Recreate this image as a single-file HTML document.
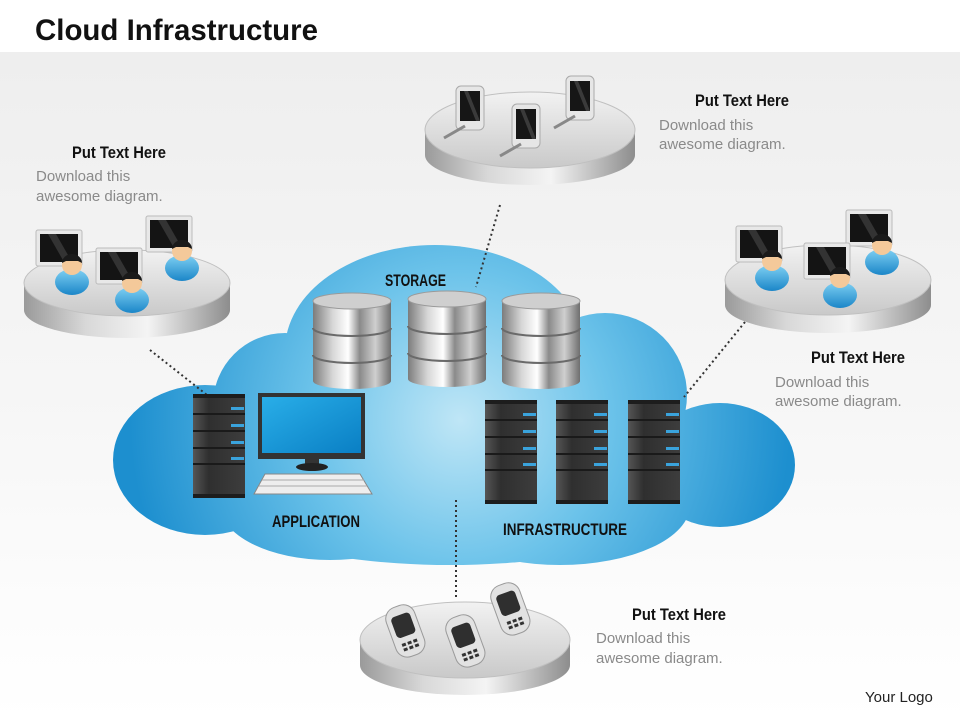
<!DOCTYPE html>
<html><head><meta charset="utf-8"><style>
html,body{margin:0;padding:0;width:960px;height:720px;overflow:hidden;background:#fff}
svg{display:block}
</style></head><body>
<svg width="960" height="720" viewBox="0 0 960 720" xmlns="http://www.w3.org/2000/svg" font-family="Liberation Sans, sans-serif">
<defs>
<linearGradient id="bg" x1="0" y1="0" x2="0" y2="1"><stop offset="0" stop-color="#eeeeee"/><stop offset="0.5" stop-color="#f6f6f6"/><stop offset="1" stop-color="#ffffff"/></linearGradient>
<radialGradient id="cloud" gradientUnits="userSpaceOnUse" cx="460" cy="420" r="330"><stop offset="0" stop-color="#bfe6f6"/><stop offset="0.45" stop-color="#6cc3ea"/><stop offset="1" stop-color="#1d8fcf"/></radialGradient>
<linearGradient id="side" x1="0" y1="0" x2="1" y2="0"><stop offset="0" stop-color="#9a9a9a"/><stop offset="0.3" stop-color="#d8d8d8"/><stop offset="0.6" stop-color="#f4f4f4"/><stop offset="1" stop-color="#8d8d8d"/></linearGradient>
<linearGradient id="top" x1="0" y1="0" x2="0" y2="1"><stop offset="0" stop-color="#f2f2f2"/><stop offset="1" stop-color="#c9c9c9"/></linearGradient>
<linearGradient id="cyl" x1="0" y1="0" x2="1" y2="0"><stop offset="0" stop-color="#7c7c7c"/><stop offset="0.25" stop-color="#d6d6d6"/><stop offset="0.45" stop-color="#ffffff"/><stop offset="0.6" stop-color="#8a8a8a"/><stop offset="0.8" stop-color="#cfcfcf"/><stop offset="1" stop-color="#6f6f6f"/></linearGradient>
<linearGradient id="srv" x1="0" y1="0" x2="1" y2="0"><stop offset="0" stop-color="#555"/><stop offset="0.3" stop-color="#2f2f2f"/><stop offset="1" stop-color="#3d3d3d"/></linearGradient>
<linearGradient id="scr" x1="0" y1="0" x2="1" y2="1"><stop offset="0" stop-color="#29aee8"/><stop offset="1" stop-color="#0a7fc4"/></linearGradient>
<linearGradient id="body" x1="0" y1="0" x2="0" y2="1"><stop offset="0" stop-color="#7fd0f3"/><stop offset="1" stop-color="#1b86c8"/></linearGradient>
<g id="server">
<rect x="0" y="0" width="52" height="104" fill="url(#srv)"/>
<rect x="0" y="0" width="52" height="4" fill="#1d1d1d"/>
<g stroke="#1a1a1a" stroke-width="2"><line x1="0" y1="20" x2="52" y2="20"/><line x1="0" y1="37" x2="52" y2="37"/><line x1="0" y1="54" x2="52" y2="54"/><line x1="0" y1="70" x2="52" y2="70"/></g>
<g fill="#3aa3dc"><rect x="38" y="13" width="13" height="3"/><rect x="38" y="30" width="13" height="3"/><rect x="38" y="47" width="13" height="3"/><rect x="38" y="63" width="13" height="3"/></g>
<rect x="0" y="100" width="52" height="4" fill="#1d1d1d"/>
</g>
<g id="cylinder">
<rect x="-39" y="8" width="78" height="80" fill="url(#cyl)"/>
<ellipse cx="0" cy="88" rx="39" ry="8" fill="url(#cyl)"/>
<path d="M-39 35 a39 8 0 0 0 78 0 M-39 62 a39 8 0 0 0 78 0" fill="none" stroke="#6a6a6a" stroke-width="2"/>
<ellipse cx="0" cy="8" rx="39" ry="8" fill="#cfcfcf" stroke="#9a9a9a"/>
</g>
<g id="person">
<rect x="-24" y="-32" width="46" height="36" rx="2" fill="#e8e8e8" stroke="#bbb"/>
<rect x="-20" y="-28" width="38" height="28" fill="#141414"/>
<path d="M-12 -28 L4 0 L12 0 L-4 -28Z" fill="#333"/>
<ellipse cx="12" cy="20" rx="17" ry="13" fill="url(#body)"/>
<circle cx="12" cy="3" r="10" fill="#f4c99a"/>
<path d="M2 1 a10 9 0 0 1 20 0 l-4 -2 l-12 0Z" fill="#1a1a1a"/>
</g>
<g id="pda">
<rect x="-14" y="-24" width="28" height="44" rx="5" fill="#e6e6e6" stroke="#aaa"/>
<rect x="-10" y="-19" width="20" height="30" fill="#161616"/>
<path d="M-6 -19 L6 11 L10 11 L-2 -19Z" fill="#3a3a3a"/>
<line x1="-5" y1="16" x2="-26" y2="28" stroke="#888" stroke-width="3"/>
</g>
<g id="phone">
<g transform="rotate(-20)">
<rect x="-15" y="-25" width="30" height="52" rx="12" fill="#e2e2e2" stroke="#9a9a9a"/>
<rect x="-10" y="-16" width="20" height="22" rx="4" fill="#2f2f2f"/>
<g fill="#333"><rect x="-8" y="12" width="4" height="3"/><rect x="-2" y="12" width="4" height="3"/><rect x="4" y="12" width="4" height="3"/><rect x="-8" y="17" width="4" height="3"/><rect x="-2" y="17" width="4" height="3"/><rect x="4" y="17" width="4" height="3"/></g>
</g>
</g>
</defs>
<rect x="0" y="0" width="960" height="720" fill="#fff"/>
<rect x="0" y="52" width="960" height="668" fill="url(#bg)"/>
<text x="35" y="40" font-size="30" font-weight="bold" fill="#111" textLength="283" lengthAdjust="spacingAndGlyphs">Cloud Infrastructure</text>

<!-- cloud -->
<g fill="url(#cloud)">
<ellipse cx="435" cy="350" rx="150" ry="105"/>
<ellipse cx="205" cy="460" rx="92" ry="75"/>
<ellipse cx="720" cy="465" rx="75" ry="62"/>
<ellipse cx="450" cy="475" rx="270" ry="90"/>
<circle cx="285" cy="405" r="72"/>
<circle cx="605" cy="395" r="82"/>
<ellipse cx="330" cy="505" rx="110" ry="55"/>
<ellipse cx="560" cy="505" rx="130" ry="60"/>
</g>

<!-- dotted connectors -->
<g stroke="#333" stroke-width="2" stroke-dasharray="2 3" fill="none">
<line x1="150" y1="350" x2="207" y2="395"/>
<line x1="500" y1="205" x2="476" y2="287"/>
<line x1="745" y1="322" x2="684" y2="397"/>
<line x1="456" y1="500" x2="456" y2="598"/>
</g>

<!-- storage -->
<use href="#cylinder" x="352" y="293"/>
<use href="#cylinder" x="447" y="291"/>
<use href="#cylinder" x="541" y="293"/>
<!-- app -->
<use href="#server" x="193" y="394"/>
<rect x="258" y="393" width="107" height="66" fill="#333"/>
<rect x="262" y="397" width="99" height="56" fill="url(#scr)"/>
<rect x="305" y="459" width="14" height="7" fill="#333"/>
<ellipse cx="312" cy="467" rx="16" ry="4" fill="#222"/>
<path d="M265 474 L360 474 L372 494 L254 494Z" fill="#eee" stroke="#888"/>
<g stroke="#aaa" stroke-width="1"><line x1="262" y1="480" x2="364" y2="480"/><line x1="259" y1="486" x2="367" y2="486"/></g>
<!-- infra -->
<use href="#server" x="485" y="400"/>
<use href="#server" x="556" y="400"/>
<use href="#server" x="628" y="400"/>

<g font-size="17" font-weight="bold" fill="#111">
<text x="385" y="286" textLength="61" lengthAdjust="spacingAndGlyphs">STORAGE</text>
<text x="272" y="527" textLength="88" lengthAdjust="spacingAndGlyphs">APPLICATION</text>
<text x="503" y="535" textLength="124" lengthAdjust="spacingAndGlyphs">INFRASTRUCTURE</text>
</g>

<!-- platforms -->
<g>
<path d="M24 283 L24 310 A103 28 0 0 0 230 310 L230 283Z" fill="url(#side)"/>
<ellipse cx="127" cy="283" rx="103" ry="33" fill="url(#top)" stroke="#c0c0c0"/>
<use href="#person" x="60" y="262"/>
<use href="#person" x="170" y="248"/>
<use href="#person" x="120" y="280"/>
</g>
<g>
<path d="M425 130 L425 155 A105 30 0 0 0 635 155 L635 130Z" fill="url(#side)"/>
<ellipse cx="530" cy="130" rx="105" ry="38" fill="url(#top)" stroke="#c0c0c0"/>
<use href="#pda" x="470" y="110"/>
<use href="#pda" x="580" y="100"/>
<use href="#pda" x="526" y="128"/>
</g>
<g>
<path d="M725 280 L725 305 A103 28 0 0 0 931 305 L931 280Z" fill="url(#side)"/>
<ellipse cx="828" cy="280" rx="103" ry="35" fill="url(#top)" stroke="#c0c0c0"/>
<use href="#person" x="760" y="258"/>
<use href="#person" x="870" y="242"/>
<use href="#person" x="828" y="275"/>
</g>
<g>
<path d="M360 640 L360 665 A105 30 0 0 0 570 665 L570 640Z" fill="url(#side)"/>
<ellipse cx="465" cy="640" rx="105" ry="38" fill="url(#top)" stroke="#c0c0c0"/>
<use href="#phone" x="405" y="630"/>
<use href="#phone" x="465" y="640"/>
<use href="#phone" x="510" y="608"/>
</g>

<!-- text blocks -->
<g font-size="17" font-weight="bold" fill="#111">
<text x="72" y="158" textLength="94" lengthAdjust="spacingAndGlyphs">Put Text Here</text>
<text x="695" y="106" textLength="94" lengthAdjust="spacingAndGlyphs">Put Text Here</text>
<text x="811" y="363" textLength="94" lengthAdjust="spacingAndGlyphs">Put Text Here</text>
<text x="632" y="620" textLength="94" lengthAdjust="spacingAndGlyphs">Put Text Here</text>
</g>
<g font-size="15" fill="#8a8a8a">
<text x="36" y="181">Download this</text><text x="36" y="201">awesome diagram.</text>
<text x="659" y="130">Download this</text><text x="659" y="149">awesome diagram.</text>
<text x="775" y="387">Download this</text><text x="775" y="406">awesome diagram.</text>
<text x="596" y="643">Download this</text><text x="596" y="663">awesome diagram.</text>
</g>
<text x="865" y="702" font-size="15" fill="#222">Your Logo</text>
</svg>
</body></html>
